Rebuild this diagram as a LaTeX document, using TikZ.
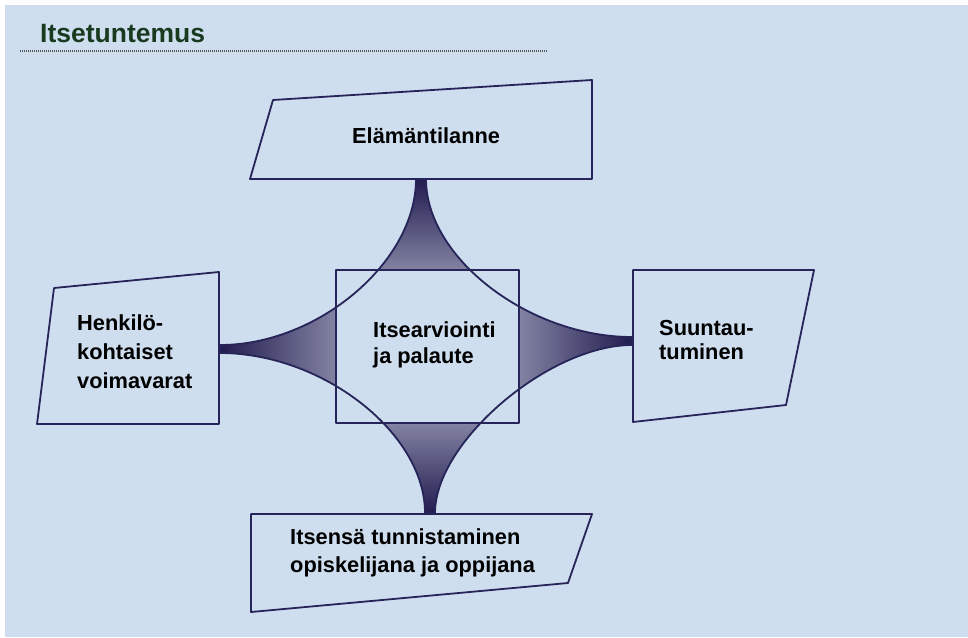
\documentclass[tikz,border=0pt]{standalone}
\usepackage{fontspec}
\setmainfont{Liberation Sans}
\definecolor{bg}{RGB}{207,222,239}
\definecolor{navy}{RGB}{38,36,88}
\definecolor{titlegreen}{RGB}{24,58,30}
\definecolor{lobeM}{RGB}{132,132,164}
\definecolor{lobeB}{RGB}{30,25,76}
\begin{document}
\begin{tikzpicture}[x=1pt,y=-1pt,line join=round,
  box/.style={draw=navy,line width=1.8pt,fill=bg},
  starline/.style={draw=navy,line width=1.8pt},
  lbl/.style={inner sep=0pt,anchor=base west,align=left,text=black},
]
\useasboundingbox (0,0) rectangle (968,637);
\fill[white] (0,0) rectangle (968,637);
\fill[bg] (5,5) rectangle (968,637);

% title
\node[inner sep=0pt,anchor=base west,text=titlegreen,font=\bfseries\fontsize{26.5}{30}\selectfont] (title) at (40,42) {Itsetuntemus};
\coordinate (dl) at (20,51);
\coordinate (dr) at (548,51);
\draw[gray!70!black,line width=1.2pt,dash pattern=on 1pt off 1pt] (dl) -- (dr);

% star tips
\coordinate (TL) at (416,179);
\coordinate (TR) at (426,179);
\coordinate (RT) at (632,337);
\coordinate (RB) at (632,345);
\coordinate (BR) at (435,513);
\coordinate (BL) at (425,513);
\coordinate (LB) at (220,353);
\coordinate (LT) at (220,345);

\def\starpath{(TR) .. controls (426,258) and (529,337) .. (RT) -- (RB)
  .. controls (549,345) and (435,442) .. (BR) -- (BL)
  .. controls (425,433) and (322.5,353) .. (LB) -- (LT)
  .. controls (318,345) and (416,262) .. (TL) -- cycle}

\begin{scope}
  \clip \starpath;
  \shade[top color=lobeB,bottom color=lobeM] (300,176) rectangle (560,271);
  \shade[left color=lobeB,right color=lobeM] (217,285) rectangle (337,415);
  \shade[right color=lobeB,left color=lobeM] (518,280) rectangle (635,405);
  \shade[bottom color=lobeB,top color=lobeM] (350,422) rectangle (520,516);
\end{scope}
\fill[bg] (336,270) rectangle (519,423);
\draw[starline] \starpath;
\draw[navy,line width=1.8pt] (336,270) rectangle (519,423);

% boxes
\draw[box] (273,100) -- (592,80) -- (592,179) -- (250,179) -- cycle;
\draw[box] (54,288) -- (219,272) -- (219,424) -- (37,424) -- cycle;
\draw[box] (633,270) -- (814,270) -- (786,405) -- (633,422) -- cycle;
\draw[box] (251,514) -- (592,514) -- (568,583) -- (251,612) -- cycle;

% labels (base anchor = baseline of the last line)
\node[lbl,font=\bfseries\fontsize{21.8}{29}\selectfont] (top) at (352,143) {Elämäntilanne};
\node[lbl,font=\bfseries\fontsize{21.8}{29}\selectfont] (left) at (77,388) {Henkilö-\\kohtaiset\\voimavarat};
\node[lbl,font=\bfseries\fontsize{21.8}{24}\selectfont] (right) at (659,359) {Suuntau-\\tuminen};
\node[lbl,font=\bfseries\fontsize{21.8}{26}\selectfont] (center) at (373,363) {Itsearviointi\\ja palaute};
\node[lbl,font=\bfseries\fontsize{21.8}{28}\selectfont] (bottom) at (290,572) {Itsensä tunnistaminen\\opiskelijana ja oppijana};
\end{tikzpicture}
\end{document}
